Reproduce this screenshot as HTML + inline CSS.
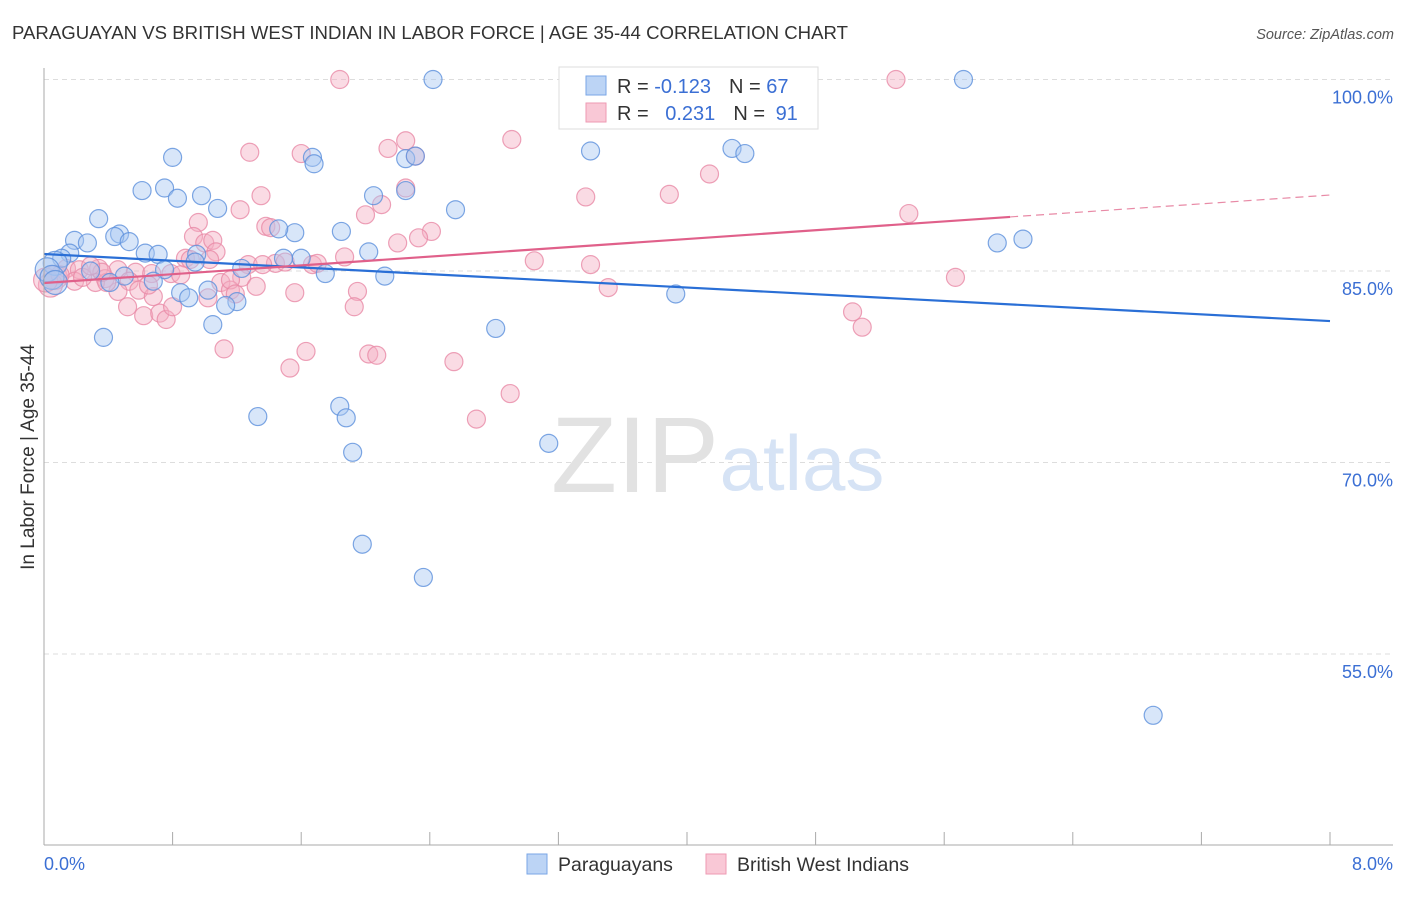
<!DOCTYPE html>
<html><head><meta charset="utf-8"><style>
body{margin:0;background:#fff;font-family:"Liberation Sans",sans-serif}
svg text{font-family:"Liberation Sans",sans-serif}
</style></head><body>
<svg id="chart" width="1406" height="892">
<text x="12" y="39" font-size="18.6" fill="#333" textLength="836" lengthAdjust="spacingAndGlyphs">PARAGUAYAN VS BRITISH WEST INDIAN IN LABOR FORCE | AGE 35-44 CORRELATION CHART</text>
<text x="1394" y="39" font-size="14.5" fill="#555" font-style="italic" text-anchor="end">Source: ZipAtlas.com</text>
<g id="grid"></g>
<g><text x="635" y="492" font-size="108" fill="#e2e2e2" font-family="Liberation Serif" text-anchor="middle">ZIP</text><text x="802" y="490" font-size="78" fill="#d6e3f5" text-anchor="middle">atlas</text></g>
<g id="pts"></g>
<g id="trend"></g>
<g id="axes"></g>
<text x="34" y="457" font-size="19" fill="#333" text-anchor="middle" transform="rotate(-90 34 457)">In Labor Force | Age 35-44</text>
<g>
<rect x="559" y="67" width="259" height="62" fill="#fff" stroke="#ddd"/>
<rect x="586" y="76" width="20" height="19" fill="#bcd4f5" stroke="#7aa6e6"/>
<rect x="586" y="103" width="20" height="19" fill="#f9c8d6" stroke="#ee9ab3"/>
<text x="617" y="93" font-size="20" fill="#333">R = <tspan fill="#3b6fd4">-0.123</tspan><tspan dx="18">N = </tspan><tspan fill="#3b6fd4">67</tspan></text>
<text x="617" y="120" font-size="20" fill="#333">R = <tspan fill="#3b6fd4" dx="11">0.231</tspan><tspan dx="18">N = </tspan><tspan fill="#3b6fd4" dx="5">91</tspan></text>
</g>
<g>
<rect x="527" y="854" width="20" height="20" fill="#bcd4f5" stroke="#7aa6e6"/>
<text x="558" y="871" font-size="19.5" fill="#333">Paraguayans</text>
<rect x="706" y="854" width="20" height="20" fill="#f9c8d6" stroke="#ee9ab3"/>
<text x="737" y="871" font-size="19.5" fill="#333">British West Indians</text>
</g>
</svg>
<script>
const yTicks=[100,85,70,55];
const yTickLabels=["100.0%","85.0%","70.0%","55.0%"];
const xTickLabels=["0.0%","8.0%"];
const blueX=[2.42,5.72,0.80,1.67,1.68,2.25,2.31,3.40,4.28,4.36,0.75,0.61,0.83,0.98,2.05,2.25,1.08,2.56,0.34,1.56,1.85,1.46,0.47,0.44,0.53,0.19,0.27,0.63,0.71,0.95,1.60,2.02,1.49,0.16,0.11,0.07,0.02,0.05,0.29,0.50,0.75,1.23,1.75,2.12,0.68,0.41,0.85,1.02,0.90,1.20,1.13,3.93,1.05,0.37,2.81,1.33,1.84,1.88,1.92,3.14,1.98,2.36,6.90,5.93,6.09,0.94,0.07];
const blueY=[100.0,100.0,93.9,93.9,93.4,93.8,94.0,94.4,94.6,94.2,91.5,91.3,90.7,90.9,90.9,91.3,89.9,89.8,89.1,88.0,88.1,88.3,87.9,87.7,87.3,87.4,87.2,86.4,86.3,86.3,86.0,86.5,86.0,86.4,86.0,85.6,85.1,84.5,85.0,84.6,85.1,85.2,84.8,84.6,84.2,84.1,83.3,83.5,82.9,82.6,82.3,83.2,80.8,79.8,80.5,73.6,74.4,73.5,70.8,71.5,63.6,61.0,50.2,87.2,87.5,85.7,84.1];
const pinkX=[1.84,5.30,2.91,2.25,1.28,1.60,2.14,2.31,3.37,3.89,4.14,1.35,1.22,2.10,2.00,2.25,5.38,0.96,1.38,1.41,2.41,2.33,2.20,0.93,1.00,1.05,1.07,0.88,0.91,1.87,1.44,1.67,1.50,3.05,3.40,0.07,0.14,0.22,0.34,0.46,0.57,0.67,0.79,0.38,0.19,0.32,0.53,1.27,1.23,1.10,1.32,1.56,1.95,0.46,0.59,0.68,1.16,0.65,3.51,5.67,0.52,0.62,0.72,0.76,0.80,1.02,1.93,5.03,5.09,1.12,1.63,2.02,2.07,1.53,2.55,2.90,2.69,0.04,0.01,0.10,0.24,0.39,1.03,1.36,1.70,1.16,0.85,0.36,0.29,1.19];
const pinkY=[100.0,100.0,95.3,95.2,94.3,94.2,94.6,94.0,90.8,91.0,92.6,90.9,89.8,90.2,89.4,91.5,89.5,88.8,88.5,88.4,88.1,87.6,87.2,87.7,87.2,87.4,86.5,86.0,85.9,86.1,85.6,85.5,85.7,85.8,85.5,84.5,85.2,85.1,85.2,85.1,84.9,84.8,84.8,84.4,84.2,84.1,84.2,85.5,84.5,84.1,83.8,83.3,83.4,83.4,83.5,83.0,83.5,83.9,83.7,84.5,82.2,81.5,81.7,81.2,82.2,82.9,82.2,81.8,80.6,78.9,78.7,78.5,78.4,77.4,77.9,75.4,73.4,83.9,84.3,84.7,84.5,84.1,85.9,85.5,85.6,84.3,84.7,84.9,85.4,83.2];
const blueTrend=[86.33,81.08];
const pinkTrend=[84.06,90.95];
const pinkSolidEnd=6.01;
const NS="http://www.w3.org/2000/svg";
const X=v=>44+v*160.75, Y=v=>79.5+(100-v)*12.767;
function mk(t,a,p){const e=document.createElementNS(NS,t);for(const k in a)e.setAttribute(k,a[k]);p.appendChild(e);return e;}
const grid=document.getElementById('grid'),axes=document.getElementById('axes'),pts=document.getElementById('pts'),tr=document.getElementById('trend');
yTicks.forEach((v,i)=>{
 const l=mk('line',{x1:44,x2:1393,y1:Y(v),y2:Y(v),stroke:'#ddd','stroke-dasharray':'5,4'},grid);
 
 
 const t=mk('text',{x:1393,y:Y(v)+24,'font-size':18,fill:'#3b6fd4','text-anchor':'end'},axes);t.textContent=yTickLabels[i];
 
 
});
mk('line',{x1:44,x2:44,y1:68,y2:845,stroke:'#aaa'},axes);
mk('line',{x1:44,x2:1393,y1:845,y2:845,stroke:'#aaa'},axes);
for(let i=1;i<=10;i++){const tk=mk('line',{x1:X(i*0.8),x2:X(i*0.8),y1:832,y2:845,stroke:'#aaa'},axes);
 
 }
[[0,'start'],[8,'end']].forEach((d,i)=>{const t=mk('text',{x:i?1393:44,y:870,'font-size':18,fill:'#3b6fd4','text-anchor':d[1]},axes);t.textContent=xTickLabels[i];
 
 });
function draw(xs,ys,fill,stroke,name){xs.forEach((x,i)=>{
 const r=(x<0.1)?12:9;
 const c=mk('circle',{cx:X(x),cy:Y(ys[i]),r:r,fill:fill,'fill-opacity':0.45,stroke:stroke,'stroke-opacity':0.8,'stroke-width':1.2},pts);
 
 
});}
draw(pinkX,pinkY,'#f4b0c4','#e889a6','point-british-west-indian');
draw(blueX,blueY,'#a9c8f2','#5d90dc','point-paraguayan');
const bl=mk('line',{x1:X(0),y1:Y(blueTrend[0]),x2:X(8),y2:Y(blueTrend[1]),stroke:'#2a6fd6','stroke-width':2.2},tr);


const pv=x=>pinkTrend[0]+(pinkTrend[1]-pinkTrend[0])*x/8;
const pl=mk('line',{x1:X(0),y1:Y(pv(0)),x2:X(pinkSolidEnd),y2:Y(pv(pinkSolidEnd)),stroke:'#e0608a','stroke-width':2.2},tr);


const pd=mk('line',{x1:X(pinkSolidEnd),y1:Y(pv(pinkSolidEnd)),x2:X(8),y2:Y(pv(8)),stroke:'#e88aa6','stroke-width':1.2,'stroke-dasharray':'8,5'},tr);


</script>
</body></html>
